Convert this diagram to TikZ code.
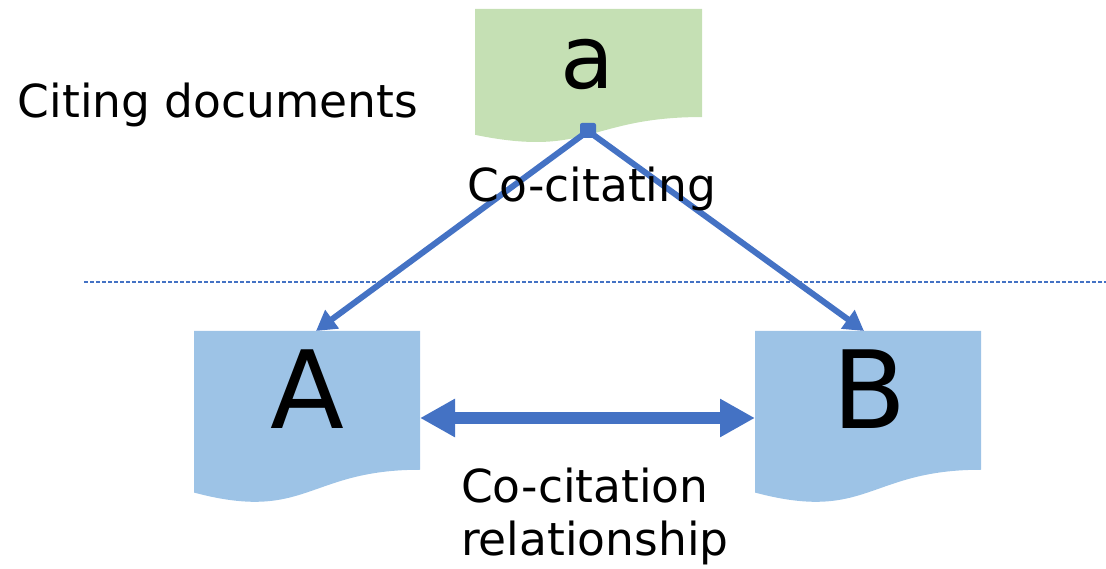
\documentclass[tikz,border=0pt]{standalone}
\usepackage{fontspec}
\setmainfont{DejaVu Sans}
\usetikzlibrary{arrows.meta}
\definecolor{arrowblue}{HTML}{4472C4}
\definecolor{docgreen}{HTML}{C5E0B4}
\definecolor{docblue}{HTML}{9DC3E6}
\tikzset{
  bigletter/.style={font=\fontsize{108}{130}\selectfont, inner sep=0pt, anchor=base},
  smallletter/.style={font=\fontsize{88}{106}\selectfont, inner sep=0pt, anchor=base},
  label/.style={font=\fontsize{45.5}{53}\selectfont, inner sep=0pt, anchor=base, align=left},
  cite/.style={draw=arrowblue, line width=6pt, -{Triangle[length=20pt,width=22pt]}},
  cocite/.style={draw=arrowblue, line width=12pt, {Triangle[length=35pt,width=36pt]}-{Triangle[length=35pt,width=36pt]}},
  divider/.style={draw=arrowblue, line width=1.2pt, dash pattern=on 4pt off 2pt}
}
% document shape: x0, x1, top, h, colour  (bottom wave, higher on the right)
\newcommand\docshape[5]{%
  \fill[#5] (#1,#3) -- (#2,#3) -- (#2,{#3+0.802*#4})
    .. controls ({(#1+#2)/2},{#3+0.802*#4}) and ({(#1+#2)/2},{#3+1.1075*#4}) .. (#1,{#3+0.934*#4}) -- cycle;}
\begin{document}
\begin{tikzpicture}[x=1pt,y=-1pt]
\useasboundingbox (0,0) rectangle (1106,569);
% dashed divider
\coordinate (divL) at (84,282);
\coordinate (divR) at (1106,282);
\draw[divider] (divL) -- (divR);
% documents
\docshape{475}{702}{9}{134.7}{docgreen}
\docshape{194}{420}{331}{173}{docblue}
\docshape{755}{981}{331}{173}{docblue}
\node[smallletter] (a) at (587,89) {a};
\node[bigletter] (A) at (307,428) {A};
\node[bigletter] (B) at (870,428) {B};
% connection points
\coordinate (aBot) at (588,131);
\coordinate (Atop) at (316,331);
\coordinate (Btop) at (864,331);
\coordinate (Aright) at (420,418);
\coordinate (Bleft) at (755,418);
% citing arrows
\draw[cite] (aBot) -- (Atop);
\draw[cite] (aBot) -- (Btop);
\fill[arrowblue, rounded corners=2pt] (580,123) rectangle (596,138);
% co-citation arrow
\draw[cocite] (Aright) -- (Bleft);
% labels
\node[label] (citing) at (218,118) {Citing documents};
\node[label] (cociting) at (592,202) {Co-citating};
\node[label, anchor=base west] (cocitation) at (461,555) {Co-citation\\relationship};
\end{tikzpicture}
\end{document}
